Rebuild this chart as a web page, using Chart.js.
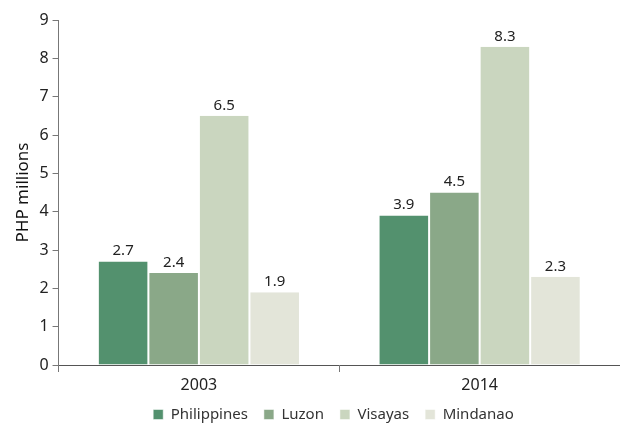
<!DOCTYPE html>
<html>
<head>
<meta charset="utf-8">
<script src="https://cdn.jsdelivr.net/npm/chart.js@4"></script>
<style>
  html, body { margin: 0; padding: 0; background: #fff; }
  #wrap { width: 620px; height: 423px; }
</style>
</head>
<body>
<div id="wrap"><canvas id="chart" width="620" height="423"></canvas></div>
<script>
// Values per region
const years = ['2003', '2014'];
const philippines = [2.7, 3.9];
const luzon = [2.4, 4.5];
const visayas = [6.5, 8.3];
const mindanao = [1.9, 2.3];
const yTicks = [0, 1, 2, 3, 4, 5, 6, 7, 8, 9];

const FONT = '"Noto Sans", "Open Sans", sans-serif';

// Draws the value above each bar
const valueLabels = {
    id: 'valueLabels',
    afterDatasetsDraw(chart) {
        const ctx = chart.ctx;
        ctx.save();
        ctx.font = '15px ' + FONT;
        ctx.fillStyle = '#222';
        ctx.textAlign = 'center';
        ctx.textBaseline = 'bottom';
        chart.data.datasets.forEach(function(ds, i) {
            chart.getDatasetMeta(i).data.forEach(function(bar, j) {
                ctx.fillText(ds.data[j].toFixed(1), bar.x, bar.y - 3);
            });
        });
        ctx.restore();
    }
};

// Keeps the legend short and nudges it under the plot centre
const legendFit = {
    id: 'legendFit',
    beforeInit(chart) {
        const fit = chart.legend.fit;
        chart.legend.fit = function() {
            fit.call(this);
            this.height = 32;
        };
    },
    afterLayout(chart) {
        chart.legend.left += 16;
        chart.legend.right += 16;
    }
};

const barStyle = { borderColor: '#ffffff', borderWidth: { left: 1, right: 1 }, borderSkipped: 'bottom' };

new Chart(document.getElementById('chart'), {
    type: 'bar',
    data: {
        labels: years,
        datasets: [
            Object.assign({ label: 'Philippines', data: philippines, backgroundColor: '#53916e' }, barStyle),
            Object.assign({ label: 'Luzon', data: luzon, backgroundColor: '#8aa888' }, barStyle),
            Object.assign({ label: 'Visayas', data: visayas, backgroundColor: '#cad6bf' }, barStyle),
            Object.assign({ label: 'Mindanao', data: mindanao, backgroundColor: '#e3e5d9' }, barStyle)
        ]
    },
    options: {
        responsive: false,
        animation: false,
        layout: { padding: { top: 20, right: -2, left: 13, bottom: 0 } },
        datasets: {
            bar: { categoryPercentage: 0.72, barPercentage: 1.0 }
        },
        plugins: {
            legend: {
                position: 'bottom',
                labels: {
                    boxWidth: 10,
                    boxHeight: 10,
                    padding: 16,
                    color: '#333',
                    font: { family: FONT, size: 15 }
                }
            },
            tooltip: { enabled: false }
        },
        scales: {
            x: {
                grid: { display: true, drawOnChartArea: false, tickLength: 7, color: '#777', offset: true },
                border: { color: '#555', width: 1 },
                ticks: { color: '#222', font: { family: FONT, size: 16 }, padding: 4 },
                afterFit: function(axis) { axis.height = 26; }
            },
            y: {
                min: 0,
                max: 9,
                afterBuildTicks: function(axis) {
                    axis.ticks = yTicks.map(function(v) { return { value: v }; });
                },
                grid: { display: true, drawOnChartArea: false, tickLength: 6, color: '#777' },
                border: { color: '#777', width: 1 },
                ticks: { color: '#222', font: { family: FONT, size: 16 }, padding: 4 },
                title: {
                    display: true,
                    text: 'PHP millions',
                    color: '#111',
                    font: { family: FONT, size: 17 },
                    padding: { top: 0, bottom: 2 }
                }
            }
        }
    },
    plugins: [valueLabels, legendFit]
});
</script>
</body>
</html>
